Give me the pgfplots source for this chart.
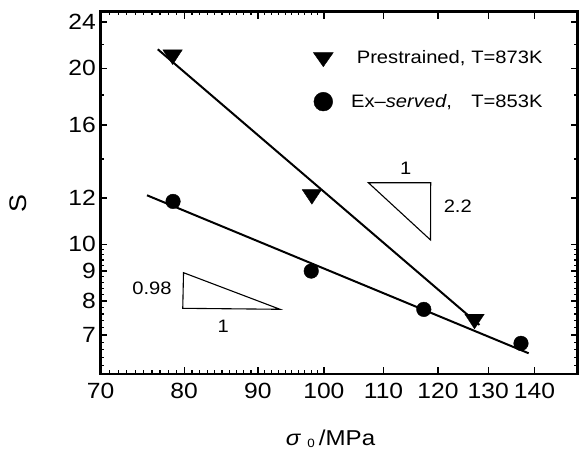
\documentclass[border=0pt]{standalone}
\usepackage{pgfplots}
\pgfplotsset{compat=1.18}
\usepackage{fontspec}
\setmainfont{Liberation Sans}[FakeStretch=1.12]
\begin{document}
\begin{tikzpicture}
\begin{axis}[
  at={(0pt,0pt)}, anchor=south west,
  scale only axis, width=477.2pt, height=362.3pt,
  xmode=log, ymode=log,
  xmin=70, xmax=150, ymin=6, ymax=25,
  axis line style={line width=2.6pt},
  xtick={70,80,90,100,110,120,130,140},
  xticklabels={70,80,90,100,110,120,130,140},
  minor xtick={71,72,73,74,75,76,77,78,79,81,82,83,84,85,86,87,88,89,91,92,93,94,95,96,97,98,99},
  ytick={7,8,9,10,12,16,20,24},
  yticklabels={7,8,9,10,12,16,20,24},
  minor ytick={6.2,6.4,6.6,6.8,7.2,7.4,7.6,7.8,8.2,8.4,8.6,8.8,9.2,9.4,9.6,9.8,14,18,22},
  tick align=inside,
  major tick length=7pt, minor tick length=3.5pt,
  tick style={black, line width=1.3pt},
  ticklabel style={font=\fontsize{22}{24}\selectfont, inner sep=0pt},
  xticklabel style={yshift=-9pt},
  yticklabel style={xshift=-4.5pt},
  xlabel={{\itshape σ}\hspace{7pt}\raisebox{-2pt}{\fontsize{12}{13}\selectfont 0}\hspace{4pt}/MPa},
  xlabel style={at={(axis description cs:0.482,-0.1979)}, anchor=base, font=\fontsize{21.5}{24}\selectfont, inner sep=0pt},
  ylabel={S},
  ylabel style={at={(axis description cs:-0.1723,0.4712)}, anchor=center, font=\fontsize{24}{26}\selectfont, inner sep=0pt},
  legend cell align=left,
  legend style={at={(axis description cs:0.4459,0.8962)}, anchor=north west, draw=none, fill=none,
    inner sep=0pt, outer sep=0pt, row sep=25.5pt, column sep=23.5pt,
    font=\fontsize{18}{21}\selectfont, nodes={inner sep=0pt}},
]
\addplot[only marks, mark=triangle*, mark size=11.2pt, mark options={rotate=180, yscale=0.87, fill=black, draw=black},
  legend image code/.code={\path[draw=none, fill=none] (-10pt,-8pt) rectangle (10pt,8pt);
    \draw[only marks, mark=triangle*, mark size=11.5pt, mark options={rotate=180, yscale=0.82, fill=black, draw=black}] plot coordinates {(0pt,0pt)};}]
  coordinates {(78.55,21.1) (98.1,12.17) (127.2,7.45)};
\addlegendentry{\makebox[114.5pt][l]{Prestrained,}T=873K}
\addplot[only marks, mark=*, mark size=7.3pt, mark options={fill=black, draw=black},
  legend image code/.code={\path[draw=none, fill=none] (-10pt,-8pt) rectangle (10pt,8pt);
    \draw[only marks, mark=*, mark size=9.4pt, mark options={fill=black, draw=black}] plot coordinates {(0pt,0pt)};}]
  coordinates {(78.6,11.84) (98.0,9.0) (117.3,7.74) (137.0,6.77)};
\addlegendentry{\hspace*{-5.7pt}\makebox[120.2pt][l]{Ex–\textit{served},}T=853K}
\addplot[black, line width=2pt, forget plot] coordinates {(76.7,21.56) (128.2,7.28)};
\addplot[black, line width=2pt, forget plot] coordinates {(75.4,12.13) (138.7,6.51)};
\draw[line width=1.1pt] (axis description cs:0.5612,0.528) -- (axis description cs:0.6919,0.528) -- (axis description cs:0.6915,0.3699) -- cycle;
\draw[line width=1.1pt] (axis description cs:0.1739,0.2796) -- (axis description cs:0.1723,0.1813) -- (axis description cs:0.3761,0.1786) -- cycle;
\node[font=\fontsize{18}{20}\selectfont, inner sep=0pt] at (axis description cs:0.6396,0.5666) {1};
\node[font=\fontsize{18}{20}\selectfont, inner sep=0pt] at (axis description cs:0.7486,0.4618) {2.2};
\node[font=\fontsize{18}{20}\selectfont, inner sep=0pt] at (axis description cs:0.1079,0.2365) {0.98};
\node[font=\fontsize{18}{20}\selectfont, inner sep=0pt] at (axis description cs:0.2573,0.1306) {1};
\end{axis}
\pgfresetboundingbox
\path (-100.5pt,-82pt) rectangle (478.5pt,374pt);
\end{tikzpicture}
\end{document}
